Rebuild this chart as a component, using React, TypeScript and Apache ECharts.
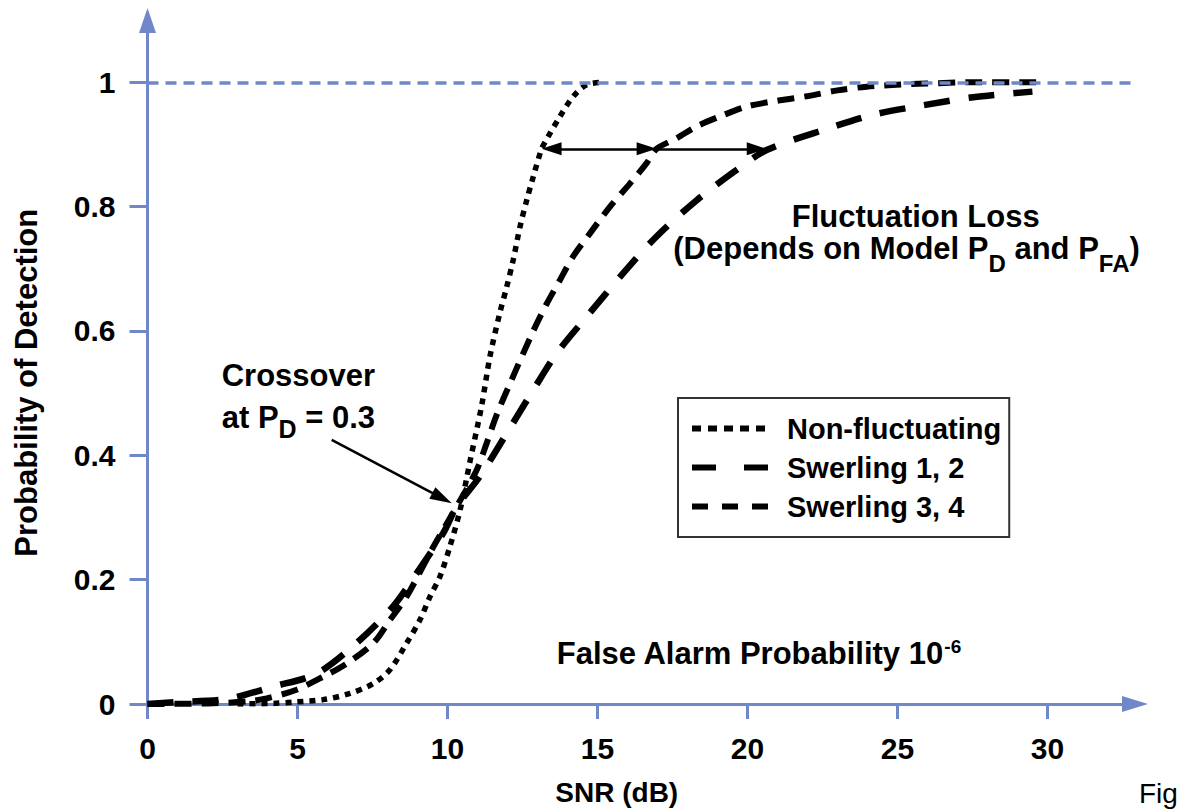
import React, { useEffect, useRef } from "react";
import * as echarts from "echarts";

// ---- data ----
const xTicks = [0, 5, 10, 15, 20, 25, 30];
const yTicks = [0, 0.2, 0.4, 0.6, 0.8, 1];

const nfSnr = [3, 4.2, 4.86, 5.86, 6.75, 7.53, 8.08, 8.64, 9.08, 9.42, 9.75, 10.08, 10.42, 10.75, 11.14, 11.42, 11.75, 11.97, 12.19, 12.42, 12.64, 12.86, 13.14, 13.35, 13.75, 14.19, 14.64, 15.2];
const nfPd = [0, 0.001, 0.003, 0.007, 0.017, 0.033, 0.055, 0.098, 0.135, 0.173, 0.205, 0.253, 0.312, 0.39, 0.48, 0.56, 0.63, 0.67, 0.714, 0.768, 0.81, 0.848, 0.893, 0.912, 0.945, 0.977, 0.996, 1.0];

const sw12Snr = [0, 0.9, 2.64, 4.19, 5.64, 6.97, 8.19, 8.97, 9.86, 10.3, 11.08, 11.97, 12.86, 13.64, 14.64, 15.86, 16.97, 18.3, 19.64, 20.64, 22.64, 24.2, 25.86, 27.53, 29.5];
const sw12Pd = [0, 0.003, 0.008, 0.028, 0.049, 0.098, 0.157, 0.21, 0.275, 0.317, 0.366, 0.435, 0.505, 0.564, 0.623, 0.693, 0.752, 0.81, 0.859, 0.891, 0.925, 0.948, 0.963, 0.976, 0.985];

const sw34Snr = [0, 2, 3.3, 3.97, 4.97, 5.86, 6.64, 7.53, 8.08, 8.64, 9.53, 10.3, 10.97, 11.31, 11.64, 12.08, 12.86, 13.3, 13.75, 14.19, 14.75, 15.42, 16.08, 16.64, 16.97, 17.64, 18.3, 19.08, 19.97, 21.08, 22.03, 23.0, 23.97, 24.97, 25.97, 27.5, 29.9];
const sw34Pd = [0, 0.001, 0.004, 0.009, 0.023, 0.044, 0.065, 0.098, 0.135, 0.173, 0.253, 0.317, 0.376, 0.42, 0.465, 0.515, 0.6, 0.643, 0.682, 0.72, 0.757, 0.8, 0.837, 0.87, 0.893, 0.91, 0.929, 0.945, 0.961, 0.971, 0.978, 0.987, 0.993, 0.996, 0.998, 1.0, 1.0];

const seriesNames = ["Non-fluctuating", "Swerling 1, 2", "Swerling 3, 4"];

// annotation anchor points (data coordinates)
const lossLevel = 0.893;
const lossArrowX = [13.47, 16.64, 16.97, 20.31];
const crossArrowFrom = [6.14, 0.4247];
const crossArrowTo = [9.82, 0.331];

const FONT = "'Liberation Sans', Arial, Helvetica, sans-serif";
const BLUE = "#7088c8";

function pairs(xs: number[], ys: number[]) {
  return xs.map((x, i) => [x, ys[i]]);
}

export default function App() {
  const ref = useRef<HTMLDivElement>(null);

  useEffect(() => {
    document.body.style.margin = "0";
    const chart = echarts.init(ref.current as HTMLDivElement, null, { renderer: "svg" });

    const blackArrow = { color: "#000", width: 2.5, type: "solid" as const };
    const tri = "triangle";

    const option: any = {
      animation: false,
      backgroundColor: "#fff",
      grid: { left: 147.5, right: 42, top: 20.5, bottom: 107, outerBoundsMode: "none", containLabel: false },
      xAxis: {
        type: "value",
        min: 0,
        max: 32.92,
        name: "SNR (dB)",
        nameLocation: "middle",
        nameGap: 74,
        nameTextStyle: { fontFamily: FONT, fontWeight: "bold", fontSize: 28, color: "#000", padding: [0, 49, 0, 0] },
        axisLine: { show: true, symbol: ["none", "triangle"], symbolSize: [16, 26], lineStyle: { color: BLUE, width: 3 } },
        axisTick: { show: true, inside: false, length: 15, customValues: xTicks, lineStyle: { color: BLUE, width: 3 } },
        axisLabel: { customValues: xTicks, margin: 29, fontFamily: FONT, fontWeight: "bold", fontSize: 30, color: "#000" },
        splitLine: { show: false },
      },
      yAxis: {
        type: "value",
        min: 0,
        max: 1.0994,
        name: "Probability of Detection",
        nameLocation: "middle",
        nameRotate: 90,
        nameGap: 106,
        nameTextStyle: { fontFamily: FONT, fontWeight: "bold", fontSize: 31, color: "#000", padding: [0, 41, 0, 0] },
        axisLine: { show: true, symbol: ["none", "triangle"], symbolSize: [17, 25], lineStyle: { color: BLUE, width: 3 } },
        axisTick: { show: true, inside: false, length: 18, customValues: yTicks, lineStyle: { color: BLUE, width: 3 } },
        axisLabel: { customValues: yTicks, margin: 32, fontFamily: FONT, fontWeight: "bold", fontSize: 30, color: "#000" },
        splitLine: { show: false },
      },
      legend: {
        orient: "vertical",
        left: 678,
        top: 398,
        padding: [16, 8, 16, 11],
        itemWidth: 76,
        itemHeight: 14,
        itemGap: 10,
        borderColor: "#333",
        borderWidth: 2,
        selectedMode: false,
        itemStyle: { opacity: 0 },
        textStyle: { fontFamily: FONT, fontWeight: "bold", fontSize: 29, color: "#000", lineHeight: 29, padding: [0, 0, 0, 14] },
        data: [
          { name: seriesNames[0], lineStyle: { width: 6, type: [9, 7], color: "#000" }, itemStyle: { opacity: 0 } },
          { name: seriesNames[1], lineStyle: { width: 6, type: [24, 28], color: "#000" }, itemStyle: { opacity: 0 } },
          { name: seriesNames[2], lineStyle: { width: 6, type: [16, 14], color: "#000" }, itemStyle: { opacity: 0 } },
        ],
      },
      series: [
        {
          name: seriesNames[0],
          type: "line",
          data: pairs(nfSnr, nfPd),
          showSymbol: false,
          symbol: "none",
          smooth: 0.3,
          z: 3,
          itemStyle: { color: "#000" },
          lineStyle: { color: "#000", width: 5.5, type: [6, 6], cap: "butt" },
          markLine: {
            silent: true,
            symbol: ["none", "none"],
            label: { show: false },
            emphasis: { disabled: true },
            data: [
              { yAxis: 1, lineStyle: { color: BLUE, width: 3.5, type: [11, 7] } },
              [
                { coord: [lossArrowX[0], lossLevel], symbol: tri, symbolSize: [13, 20], lineStyle: blackArrow },
                { coord: [lossArrowX[1], lossLevel], symbol: tri, symbolSize: [13, 20] },
              ],
              [
                { coord: [lossArrowX[2], lossLevel], symbol: "none", lineStyle: blackArrow },
                { coord: [lossArrowX[3], lossLevel], symbol: tri, symbolSize: [13, 20] },
              ],
              [
                { coord: crossArrowFrom, symbol: "none", lineStyle: blackArrow },
                { coord: crossArrowTo, symbol: tri, symbolSize: [13, 22] },
              ],
            ],
          },
        },
        {
          name: seriesNames[1],
          type: "line",
          data: pairs(sw12Snr, sw12Pd),
          showSymbol: false,
          symbol: "none",
          smooth: 0.3,
          z: 3,
          itemStyle: { color: "#000" },
          lineStyle: { color: "#000", width: 6.5, type: [26, 19], cap: "butt" },
        },
        {
          name: seriesNames[2],
          type: "line",
          data: pairs(sw34Snr, sw34Pd),
          showSymbol: false,
          symbol: "none",
          smooth: 0.3,
          z: 3,
          itemStyle: { color: "#000" },
          lineStyle: { color: "#000", width: 6, type: [17, 10], cap: "butt" },
        },
      ],
      graphic: [
        {
          type: "text", x: 221.7, y: 375,
          style: { text: "Crossover", fontFamily: FONT, fontWeight: "bold", fontSize: 31, fill: "#000", align: "left", verticalAlign: "middle" },
        },
        {
          type: "text", x: 221.7, y: 417.5,
          style: {
            text: "at P{sub|D} = 0.3", fontFamily: FONT, fontWeight: "bold", fontSize: 31, fill: "#000", align: "left", verticalAlign: "middle",
            rich: { sub: { fontFamily: FONT, fontWeight: "bold", fontSize: 25, fill: "#000", padding: [23, 0, 0, 0] } },
          },
        },
        {
          type: "text", x: 791.7, y: 216,
          style: { text: "Fluctuation Loss", fontFamily: FONT, fontWeight: "bold", fontSize: 31, fill: "#000", align: "left", verticalAlign: "middle" },
        },
        {
          type: "text", x: 673.3, y: 248,
          style: {
            text: "(Depends on Model P{sub|D} and P{sub|FA})", fontFamily: FONT, fontWeight: "bold", fontSize: 31, fill: "#000", align: "left", verticalAlign: "middle",
            rich: { sub: { fontFamily: FONT, fontWeight: "bold", fontSize: 24, fill: "#000", padding: [30, 0, 0, 0] } },
          },
        },
        {
          type: "text", x: 556.7, y: 653.3,
          style: {
            text: "False Alarm Probability 10{sup|-6}", fontFamily: FONT, fontWeight: "bold", fontSize: 31, fill: "#000", align: "left", verticalAlign: "middle",
            rich: { sup: { fontFamily: FONT, fontWeight: "bold", fontSize: 19, fill: "#000", padding: [0, 0, 14, 0] } },
          },
        },
        {
          type: "text", x: 1139, y: 793,
          style: { text: "Fig", fontFamily: FONT, fontSize: 28, fill: "#000", align: "left", verticalAlign: "middle" },
        },
      ],
    };

    chart.setOption(option);
    return () => chart.dispose();
  }, []);

  return (
    <div
      ref={ref}
      style={{ position: "absolute", left: 0, top: 0, width: 1177, height: 811, background: "#fff" }}
    />
  );
}
